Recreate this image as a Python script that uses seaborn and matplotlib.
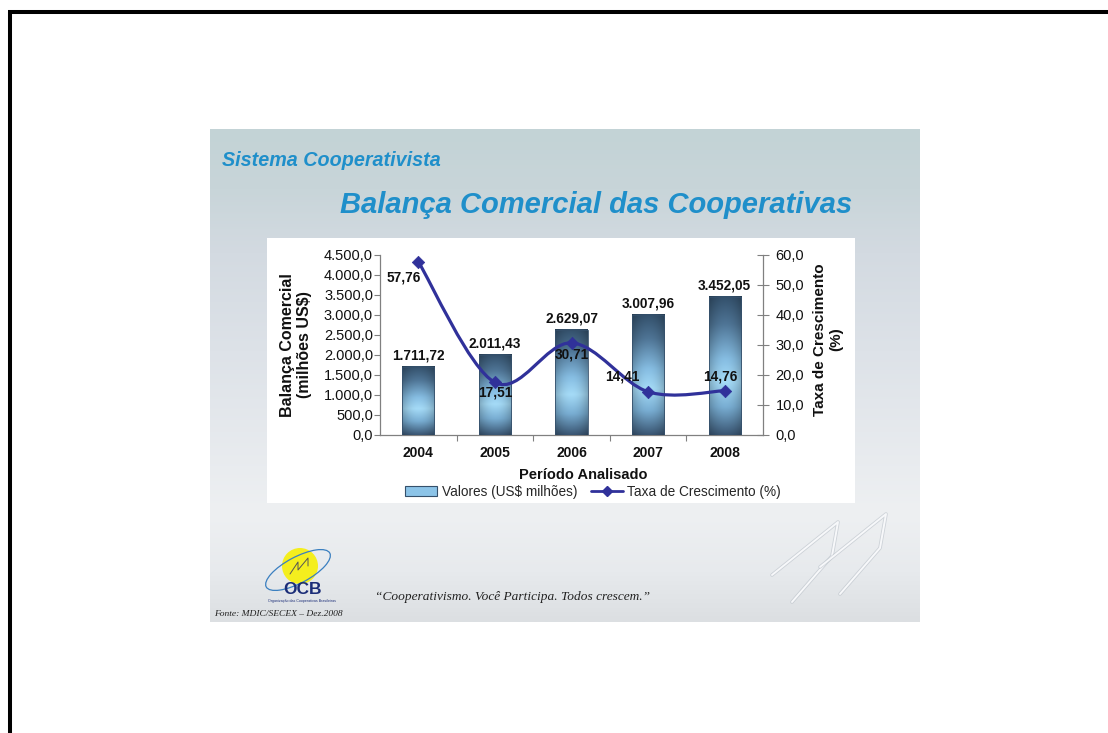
import matplotlib
matplotlib.use("Agg")
import matplotlib.pyplot as plt
import seaborn as sns
import numpy as np
from matplotlib.path import Path
from matplotlib.patches import PathPatch, Rectangle, Ellipse, Patch
from matplotlib.lines import Line2D
from matplotlib.colors import LinearSegmentedColormap

# Dados do gráfico
anos = ["2004", "2005", "2006", "2007", "2008"]
valores = [1711.72, 2011.43, 2629.07, 3007.96, 3452.05]
taxa = [57.76, 17.51, 30.71, 14.41, 14.76]
rotulos_valores = ["1.711,72", "2.011,43", "2.629,07", "3.007,96", "3.452,05"]
rotulos_taxa = ["57,76", "17,51", "30,71", "14,41", "14,76"]
ticks_esq = [0, 500, 1000, 1500, 2000, 2500, 3000, 3500, 4000, 4500]
ticks_dir = [0, 10, 20, 30, 40, 50, 60]

titulo_1 = "Sistema Cooperativista"
titulo_2 = "Balança Comercial das Cooperativas"
lema = "\u201cCooperativismo. Você Participa. Todos crescem.\u201d"
fonte = "Fonte: MDIC/SECEX \u2013 Dez.2008"

AZUL_TITULO = "#1f8fca"
AZUL_LINHA = "#30319a"
SANS = "Liberation Sans"
SERIF = "Liberation Serif"

sns.set_theme(style="white")
plt.rcParams["font.family"] = [SANS, "DejaVu Sans"]

W, H = 1108, 733
fig = plt.figure(figsize=(W / 100, H / 100), dpi=100)
fig.patch.set_facecolor("white")


def fmt_br(v, casas=1):
    s = f"{v:,.{casas}f}"
    return s.replace(",", "X").replace(".", ",").replace("X", ".")


# ---- fundo do slide, em coordenadas de pixel ----
bg = fig.add_axes([0, 0, 1, 1])
bg.set_xlim(0, W)
bg.set_ylim(H, 0)
bg.axis("off")

# moldura preta da página
bg.plot([8, W], [12, 12], color="black", lw=2.9, solid_capstyle="butt")
bg.plot([10, 10], [12, H], color="black", lw=2.9, solid_capstyle="butt")

# gradiente vertical do slide
stops = [(0.0, "#c3d3d6"), (0.12, "#c8d5d9"), (0.25, "#d3dae1"),
         (0.45, "#dde2e8"), (0.78, "#eef0f2"), (0.9, "#e7eaed"), (1.0, "#dcdfe2")]
cmap_bg = LinearSegmentedColormap.from_list("slide", stops)
grad = np.linspace(0, 1, 256).reshape(-1, 1)
bg.imshow(grad, cmap=cmap_bg, extent=(210, 920, 622, 129), aspect="auto", zorder=1)

# painel branco do gráfico
bg.add_patch(Rectangle((267, 238), 855 - 267, 503 - 238, facecolor="white",
                       edgecolor="none", zorder=2))

# títulos
bg.text(222, 160, titulo_1, fontsize=14.2, fontweight="bold", style="italic",
        color=AZUL_TITULO, va="center", ha="left", zorder=3)
bg.text(340, 205, titulo_2, fontsize=21, fontweight="bold", style="italic",
        color=AZUL_TITULO, va="center", ha="left", zorder=3)

# logotipo OCB
bg.add_patch(Ellipse((300, 566), 36, 36, facecolor="#f4ee1e", edgecolor="none", zorder=3))
bg.add_patch(Ellipse((298, 570), 72, 26, angle=-28, facecolor="none",
                     edgecolor="#3a7fc0", lw=0.9, zorder=4))
bg.plot([290, 298, 298, 308, 308], [574, 562, 570, 558, 566], color="#555555", lw=0.7, zorder=4)
bg.text(302, 590, "OCB", fontsize=12.5, fontweight="bold", color="#1b2d78",
        ha="center", va="center", zorder=4)
bg.text(302, 601, "Organização das Cooperativas Brasileiras", fontsize=2.6,
        color="#1b2d78", ha="center", va="center", zorder=4)

# lema e fonte
bg.text(375, 597, lema, fontsize=9.6, style="italic", family=SERIF,
        color="#222222", ha="left", va="center", zorder=4)
bg.text(214, 614, fonte, fontsize=6.8, style="italic", family=SERIF,
        color="#222222", ha="left", va="center", zorder=4)

# detalhe decorativo (setas do logotipo) no canto inferior direito
for dx, dy in [(0, 0), (48, -8)]:
    xs_d = np.array([772, 838, 832, 792]) + dx
    ys_d = np.array([575, 522, 556, 602]) + dy
    bg.plot(xs_d, ys_d, color="#b9c0c8", lw=2.6, alpha=0.6, zorder=3)
    bg.plot(xs_d, ys_d, color="#f7f8fa", lw=1.4, zorder=3)

# ---- gráfico principal ----
ax = fig.add_axes([380 / W, 1 - 435 / H, 383 / W, 180 / H])
ax.patch.set_alpha(0)
sns.barplot(x=anos, y=valores, ax=ax, width=0.42, color="#8cc4e8",
            edgecolor="#35506b", linewidth=0.6, zorder=3)

# gradiente das barras (escuro em cima, claro no meio, escuro embaixo)
perfil = [(0.0, "#33506b"), (0.2, "#4f7596"), (0.45, "#86bde2"),
          (0.62, "#a5dbf7"), (0.8, "#79aed3"), (1.0, "#3a5673")]
cmap_bar = LinearSegmentedColormap.from_list("barra", perfil)
col = cmap_bar(np.linspace(0, 1, 128))[:, :3]
sombra = 1 - 0.22 * np.abs(np.linspace(-1, 1, 32)) ** 2
img = col[:, None, :] * sombra[None, :, None]
for p in ax.patches:
    x0, w, h = p.get_x(), p.get_width(), p.get_height()
    ax.imshow(img, extent=(x0, x0 + w, 0, h), aspect="auto", zorder=3.5,
              interpolation="bilinear")
    p.set_facecolor("none")
    p.set_zorder(3.6)
ax.set_ylim(0, 4500)
ax.set_xlim(-0.5, len(anos) - 0.5)

for i, (v, r) in enumerate(zip(valores, rotulos_valores)):
    ax.annotate(r, xy=(i, v), xytext=(0, 11), textcoords="offset pixels",
                ha="center", va="center", fontsize=9.8, fontweight="bold",
                color="#111111", zorder=6)

ax.set_yticks(ticks_esq)
ax.set_yticklabels([fmt_br(t) for t in ticks_esq], fontsize=10.5, color="#111111")
ax.set_xticks(range(len(anos)))
ax.set_xticklabels(anos, fontsize=10, fontweight="bold", color="#111111")
ax.set_xticks(np.arange(0.5, len(anos) - 1, 1), minor=True)
ax.tick_params(axis="y", direction="out", length=4, width=0.8, color="#808080", pad=1, left=True)
ax.tick_params(axis="x", which="major", length=0, pad=8)
ax.tick_params(axis="x", which="minor", direction="out", length=4, width=0.8,
               color="#808080", bottom=True)
ax.set_xlabel("")
ax.set_ylabel("")
sns.despine(ax=ax, top=True, right=True)
for s in ("left", "bottom"):
    ax.spines[s].set_color("#808080")
    ax.spines[s].set_linewidth(0.9)
ax.grid(False)

ax.text(-0.219, 0.5, "Balança Comercial\n(milhões US$)", transform=ax.transAxes,
        rotation=90, ha="center", va="center", fontsize=11.5, fontweight="bold",
        multialignment="center", color="#111111")
ax.text(0.53, -0.222, "Período Analisado", transform=ax.transAxes, ha="center",
        va="center", fontsize=10.5, fontweight="bold", color="#111111")

# ---- eixo secundário: taxa de crescimento ----
ax2 = ax.twinx()
pos = np.arange(len(anos), dtype=float)
pts = np.column_stack([pos, taxa])
ext = np.vstack([pts[0], pts, pts[-1]])
verts, codes = [pts[0]], [Path.MOVETO]
for i in range(len(pts) - 1):
    p0, p1, p2, p3 = ext[i], ext[i + 1], ext[i + 2], ext[i + 3]
    verts += [p1 + (p2 - p0) / 6, p2 - (p3 - p1) / 6, p2]
    codes += [Path.CURVE4] * 3
ax2.add_patch(PathPatch(Path(verts, codes), facecolor="none", edgecolor=AZUL_LINHA,
                        lw=2.3, zorder=5))
sns.scatterplot(x=pos, y=taxa, marker="D", s=40, color=AZUL_LINHA,
                edgecolor=AZUL_LINHA, ax=ax2, zorder=6, legend=False)
ax2.set_xlim(-0.5, len(anos) - 0.5)
ax2.set_ylim(0, 60)

offsets = [(-15, -16), (0, -10), (0, -12), (-26, 15), (-4, 14)]
for i, (v, r) in enumerate(zip(taxa, rotulos_taxa)):
    ax2.annotate(r, xy=(i, v), xytext=offsets[i], textcoords="offset pixels",
                 ha="center", va="center", fontsize=9.8, fontweight="bold",
                 color="#111111", zorder=7)

ax2.set_yticks(ticks_dir)
ax2.set_yticklabels([fmt_br(t) for t in ticks_dir], fontsize=10.5, color="#111111")
ax2.tick_params(axis="y", direction="inout", length=8, width=0.8, color="#808080", pad=5, right=True)
ax2.set_ylabel("")
for s in ("left", "top", "bottom"):
    ax2.spines[s].set_visible(False)
ax2.spines["right"].set_color("#808080")
ax2.spines["right"].set_linewidth(0.9)
ax2.grid(False)
ax2.text(1.17, 0.53, "Taxa de Crescimento\n(%)", transform=ax2.transAxes,
         rotation=90, ha="center", va="center", fontsize=11, fontweight="bold",
         multialignment="center", color="#111111")

# legenda
handles = [Patch(facecolor="#8cc4e8", edgecolor="#35506b", linewidth=0.8),
           Line2D([0], [0], color=AZUL_LINHA, lw=2, marker="D", markersize=5)]
fig.legend(handles, ["Valores (US$ milhões)", "Taxa de Crescimento (%)"],
           loc="center", bbox_to_anchor=(593 / W, 1 - 492 / H), ncol=2,
           frameon=False, fontsize=9.8, handlelength=2.4, handleheight=0.7,
           columnspacing=1.0, handletextpad=0.3, borderpad=0)

fig.savefig("out.png", dpi=100)
